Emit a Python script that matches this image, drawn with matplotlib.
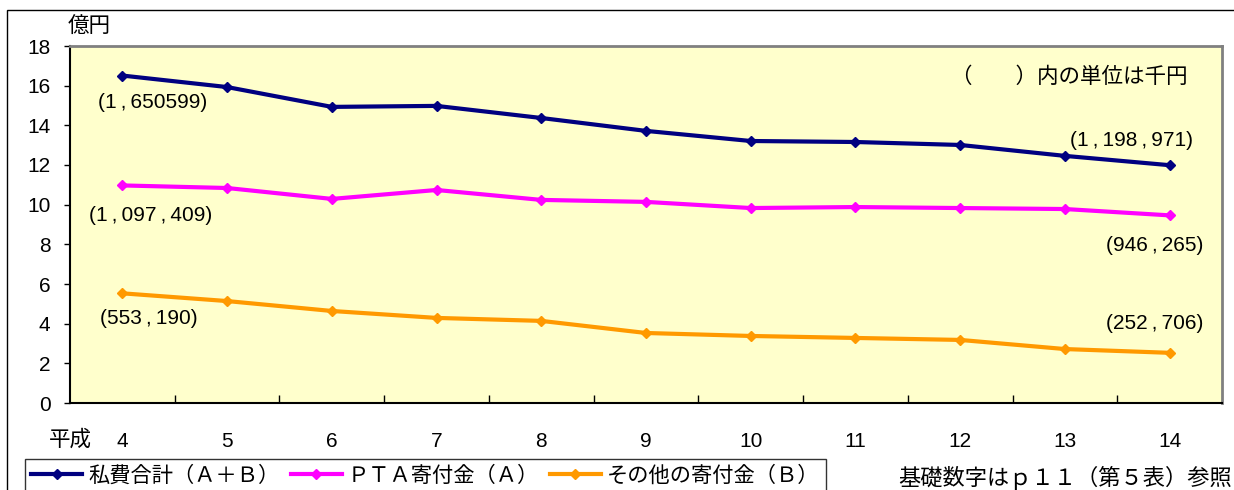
import numpy as np
import matplotlib.pyplot as plt
from matplotlib.patches import Rectangle
from matplotlib.lines import Line2D

plt.rcParams['font.family'] = ['Liberation Sans', 'Noto Sans CJK JP', 'DejaVu Sans']

years = ['4', '5', '6', '7', '8', '9', '10', '11', '12', '13', '14']
total = [16.51, 15.93, 14.93, 14.98, 14.37, 13.72, 13.21, 13.16, 13.01, 12.46, 11.99]
pta = [10.97, 10.84, 10.29, 10.74, 10.24, 10.14, 9.83, 9.88, 9.83, 9.78, 9.46]
other = [5.53, 5.14, 4.64, 4.29, 4.14, 3.53, 3.38, 3.28, 3.18, 2.72, 2.53]

names = ['私費合計（Ａ＋Ｂ）', 'ＰＴＡ寄付金（Ａ）', 'その他の寄付金（Ｂ）']
colors = ['#000080', '#FF00FF', '#FF9900']

fig = plt.figure(figsize=(12.34, 4.9), dpi=100)
ax = fig.add_axes([70/1234, 1-403/490, 1152/1234, 357/490])
ax.set_facecolor('#FFFFCC')

x = np.arange(len(years))
for vals, c in zip([total, pta, other], colors):
	ax.plot(x, vals, color=c, lw=3, marker='D', ms=5, mec=c, solid_joinstyle='round')

ax.set_xlim(-0.5, len(years)-0.5)
ax.set_ylim(0, 18)
ax.set_yticks(range(0, 19, 2))
ax.tick_params(axis='y', direction='out', length=4, width=1, pad=10, labelsize=15)
ax.set_xticks(np.arange(0.5, len(years)-1, 1))
ax.set_xticklabels([])
ax.tick_params(axis='x', which='major', direction='in', length=6, width=1)
ax.set_xticks(x, minor=True)
ax.set_xticklabels(years, minor=True)
ax.tick_params(axis='x', which='minor', length=0, pad=21, labelsize=15)

for s in ['left', 'bottom']:
	ax.spines[s].set_color('black')
	ax.spines[s].set_linewidth(1.5)
for s in ['top', 'right']:
	ax.spines[s].set_color('#808080')
	ax.spines[s].set_linewidth(2)

# labels with values in thousand yen
lab_fs = 15
ts = '\u2009'
ax.text(0.29, 15.13, '(1' + ts + ',' + ts + '650599)', ha='center', va='center', fontsize=lab_fs)
ax.text(0.27, 9.43, '(1' + ts + ',' + ts + '097' + ts + ',' + ts + '409)', ha='center', va='center', fontsize=lab_fs)
ax.text(0.25, 4.24, '(553' + ts + ',' + ts + '190)', ha='center', va='center', fontsize=lab_fs)
ax.text(9.64, 13.26, '(1' + ts + ',' + ts + '198' + ts + ',' + ts + '971)', ha='center', va='center', fontsize=lab_fs)
ax.text(9.86, 7.92, '(946' + ts + ',' + ts + '265)', ha='center', va='center', fontsize=lab_fs)
ax.text(9.86, 4.03, '(252' + ts + ',' + ts + '706)', ha='center', va='center', fontsize=lab_fs)
ax.text(9.04, 16.39, '（　　）内の単位は千円', ha='center', va='center', fontsize=15.5)

fig.text(89/1234, 1-27/490, '億円', ha='center', va='center', fontsize=15.5)
fig.text(70/1234, 1-440/490, '平成', ha='center', va='center', fontsize=15.5)
fig.text(1232/1234, 1-478/490, '基礎数字はｐ１１（第５表）参照', ha='right', va='center', fontsize=16)

# outer frame
fig.patches.append(Rectangle((7/1234, -0.2), 1.2, 1.2 - 10/490, transform=fig.transFigure,
	fill=False, edgecolor='black', lw=1))

handles = [Line2D([], [], color=c, lw=3, marker='D', ms=5) for c in colors]
leg = fig.legend(handles, names, loc='upper left', bbox_to_anchor=(25/1234, 1-459/490),
	ncol=3, fontsize=15.3, frameon=True, fancybox=False, handlelength=2.4,
	columnspacing=0.5, handletextpad=0.3, borderpad=0.3, borderaxespad=0)
leg.get_frame().set_edgecolor('black')
leg.get_frame().set_linewidth(1)

plt.savefig('out.png')
